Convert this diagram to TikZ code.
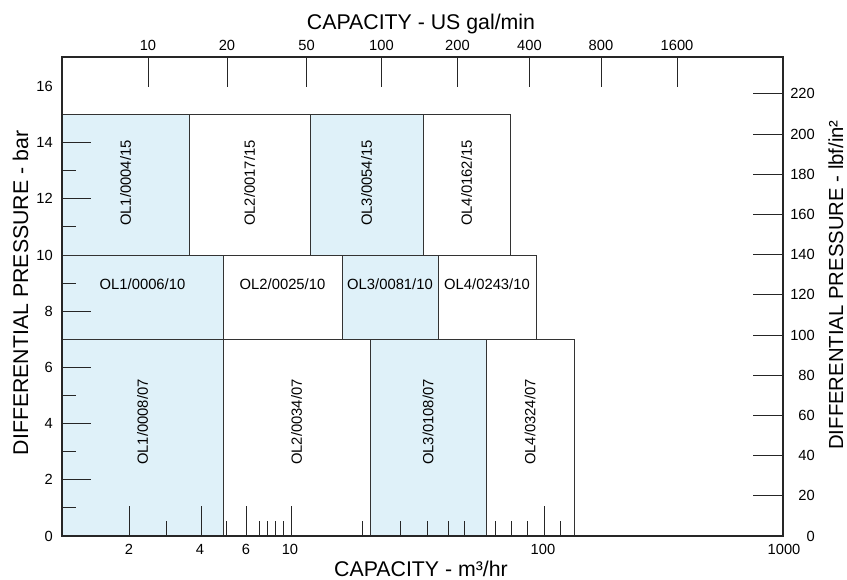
\documentclass[tikz,border=0pt]{standalone}
\usepackage{fontspec}
\setmainfont{Liberation Sans}
\definecolor{lightblue}{HTML}{DFF1F9}
\definecolor{linegray}{HTML}{333333}
\begin{document}
\begin{tikzpicture}[x=1pt,y=-1pt,
  frameline/.style={line width=1.1pt, draw=black!85},
  bluebox/.style={fill=lightblue, draw=linegray, line width=0.9pt},
  whitebox/.style={fill=white, draw=linegray, line width=0.9pt},
  tickline/.style={line width=0.9pt, draw=black!85},
  ticklabel/.style={font=\fontsize{14.7}{17}\selectfont, inner sep=0pt},
  boxlabel/.style={font=\fontsize{14.8}{17}\selectfont, inner sep=0pt},
  axistitle/.style={font=\fontsize{21.3}{25}\selectfont, inner sep=0pt}]

\useasboundingbox (0,0) rectangle (847,579);

% row 15 bar
\path[bluebox]  (62,114.5) rectangle (189,255);
\path[whitebox] (189,114.5) rectangle (310,255);
\path[bluebox]  (310,114.5) rectangle (423,255);
\path[whitebox] (423,114.5) rectangle (510,255);
% row 10 bar
\path[bluebox]  (62,255) rectangle (223,339);
\path[whitebox] (223,255) rectangle (342,339);
\path[bluebox]  (342,255) rectangle (438,339);
\path[whitebox] (438,255) rectangle (536,339);
% row 7 bar
\path[bluebox]  (62,339) rectangle (223,536);
\path[whitebox] (223,339) rectangle (370,536);
\path[bluebox]  (370,339) rectangle (486,536);
\path[whitebox] (486,339) rectangle (574,536);

% labels
\node[boxlabel, rotate=90] (a1) at (125.5,183) {OL1/0004/15};
\node[boxlabel, rotate=90] (a2) at (249.5,183) {OL2/0017/15};
\node[boxlabel, rotate=90] (a3) at (366.5,183) {OL3/0054/15};
\node[boxlabel, rotate=90] (a4) at (466.5,183) {OL4/0162/15};
\node[boxlabel] (b1) at (142.5,284) {OL1/0006/10};
\node[boxlabel] (b2) at (282.5,284) {OL2/0025/10};
\node[boxlabel] (b3) at (390,284) {OL3/0081/10};
\node[boxlabel] (b4) at (487,284) {OL4/0243/10};
\node[boxlabel, rotate=90] (c1) at (142.5,422) {OL1/0008/07};
\node[boxlabel, rotate=90] (c2) at (296.5,422) {OL2/0034/07};
\node[boxlabel, rotate=90] (c3) at (428,422) {OL3/0108/07};
\node[boxlabel, rotate=90] (c4) at (530,422) {OL4/0324/07};

% frame
\draw[frameline] (62,57) rectangle (783,536);

% left axis
\foreach \v in {2,4,6,8,12,14} \draw[tickline] (62,{536-28.1*\v}) -- ++(29,0);
\foreach \v in {1,3,5,9,11,13} \draw[tickline] (62,{536-28.1*\v}) -- ++(14,0);
\foreach \v in {0,2,...,16} \node[ticklabel, anchor=east] (yl\v) at (53,{536-28.1*\v}) {\v};

% right axis
\foreach \k in {1,...,11} \draw[tickline] (753,{536-40.2*\k}) -- (783,{536-40.2*\k});
\foreach \k in {0,...,11} {
  \pgfmathtruncatemacro{\p}{20*\k}
  \node[ticklabel, anchor=east] (yr\k) at (815,{536-40.2*\k}) {\p};
}

% top axis
\foreach \x/\l in {148/10, 227/20, 306.5/50, 381.5/100, 457.5/200, 529.5/400, 601/800, 677/1600} {
  \draw[tickline] (\x,57) -- (\x,87);
  \node[ticklabel, anchor=base] (tl\l) at (\x,50.5) {\l};
}

% bottom axis
\foreach \x in {129, 201, 246, 291, 544.5} \draw[tickline] (\x,536) -- (\x,506);
\foreach \x in {166, 226.5, 259, 267, 275.5, 283.5, 362.5, 400, 427.5, 448, 464, 495.5, 511, 527.5, 560}
  \draw[tickline] (\x,536) -- (\x,521);
\foreach \x/\l in {129/2, 200/4, 246/6, 290/10, 543/100, 784/1000}
  \node[ticklabel, anchor=base] (bl\l) at (\x,554.5) {\l};

% titles
\node[axistitle, anchor=base] (ttop) at (421,29) {CAPACITY - US gal/min};
\node[axistitle, anchor=base] (tbot) at (421,576) {CAPACITY - m³/hr};
\node[axistitle, anchor=base, rotate=90] (tleft) at (28,293) {DIFFERENTIAL PRESSURE - bar};
\node[axistitle, anchor=base, rotate=90, font=\fontsize{20.3}{24}\selectfont] (tright) at (843,285) {DIFFERENTIAL PRESSURE - lbf/in²};
\end{tikzpicture}
\end{document}
